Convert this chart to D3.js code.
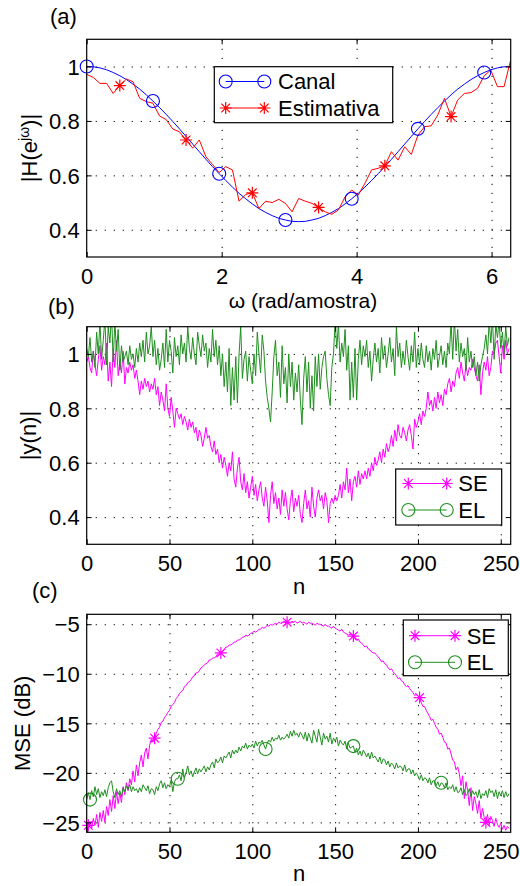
<!DOCTYPE html>
<html><head><meta charset="utf-8">
<script src="https://cdn.jsdelivr.net/npm/d3@7"></script>
<style>body{margin:0;background:#fff}svg text{font-family:"Liberation Sans",Arial,Helvetica,sans-serif;fill:#000}</style>
</head><body><script>
// ---- data ----
const canal = [1.000,0.999,0.995,0.988,0.978,0.966,0.952,0.935,0.917,0.896,
0.873,0.849,0.824,0.798,0.771,0.743,0.715,0.687,0.659,0.632,
0.606,0.581,0.557,0.534,0.514,0.495,0.478,0.464,0.452,0.442,
0.436,0.431,0.430,0.431,0.436,0.442,0.452,0.464,0.478,0.495,
0.514,0.534,0.557,0.581,0.606,0.632,0.659,0.687,0.715,0.743,
0.771,0.798,0.824,0.849,0.873,0.896,0.917,0.935,0.952,0.966,
0.978,0.988,0.995,0.999,1.000];
const estimativa = [0.971,0.960,0.938,0.938,0.901,0.930,0.954,0.944,0.883,0.871,
0.865,0.818,0.805,0.770,0.760,0.730,0.700,0.730,0.668,0.640,
0.610,0.632,0.620,0.505,0.530,0.536,0.478,0.505,0.500,0.512,
0.497,0.466,0.515,0.505,0.497,0.482,0.466,0.457,0.473,0.521,
0.546,0.528,0.571,0.620,0.626,0.635,0.687,0.656,0.705,0.677,
0.748,0.779,0.782,0.822,0.883,0.816,0.877,0.901,0.904,0.920,
0.966,0.987,0.926,0.926,1.024];
const canalMarkers = [0,10,20,30,40,50,60];
const estMarkers = [5,15,25,35,45,55];

const seY = [0.97,0.99,0.95,0.93,1.01,0.96,0.92,0.98, 1.03,0.94,0.99,0.96,1.04,0.90,0.97,0.88,
1.02,0.95,1.05,0.92,0.97,0.93,1.01,0.89, 0.95,0.93,0.97,0.94,0.96,0.91,0.94,0.90,
0.85,0.90,0.87,0.91,0.88,0.90,0.86,0.89, 0.87,0.91,0.85,0.88,0.81,0.86,0.83,0.79,
0.89,0.80,0.77,0.84,0.79,0.73,0.80,0.78, 0.76,0.78,0.74,0.77,0.75,0.72,0.76,0.73,
0.75,0.71,0.73,0.68,0.72,0.70,0.66,0.69, 0.73,0.69,0.70,0.66,0.64,0.68,0.63,0.65,
0.60,0.63,0.58,0.62,0.59,0.55,0.60,0.57, 0.64,0.54,0.51,0.58,0.62,0.53,0.50,0.56,
0.49,0.53,0.47,0.51,0.55,0.48,0.52,0.46, 0.50,0.53,0.47,0.44,0.51,0.46,0.38,0.48,
0.53,0.45,0.49,0.43,0.47,0.41,0.50,0.44, 0.49,0.43,0.39,0.46,0.50,0.42,0.47,0.44,
0.48,0.41,0.38,0.45,0.50,0.43,0.46,0.40, 0.51,0.44,0.40,0.47,0.50,0.46,0.48,0.43,
0.49,0.46,0.38,0.45,0.47,0.45,0.48,0.46, 0.48,0.52,0.47,0.53,0.50,0.58,0.49,0.54,
0.46,0.53,0.55,0.51,0.57,0.52,0.56,0.54, 0.57,0.54,0.58,0.55,0.60,0.57,0.62,0.59,
0.61,0.64,0.60,0.65,0.62,0.67,0.64,0.66, 0.70,0.66,0.72,0.68,0.74,0.70,0.69,0.73,
0.71,0.68,0.72,0.74,0.70,0.65,0.76,0.73, 0.75,0.78,0.74,0.79,0.77,0.80,0.86,0.81,
0.83,0.79,0.84,0.80,0.86,0.82,0.85,0.81, 0.87,0.85,0.89,0.91,0.86,0.90,0.88,0.93,
0.95,0.91,0.97,0.93,0.90,0.96,0.92,0.95, 0.94,0.98,0.95,0.92,0.90,0.96,0.85,0.93,
0.97,0.94,0.99,0.92,0.95,1.01,1.00,1.04, 1.05,0.99,0.93,1.03,0.98,1.05,1.00,1.02];

const elY = [1.02,0.99,1.06,0.97,1.01,0.95,1.08,1.00, 1.12,0.98,1.05,1.13,0.96,1.10,1.04,1.15,
0.97,1.12,1.01,1.09,0.94,1.03,0.97,0.99, 1.01,0.96,1.03,0.98,1.00,0.95,1.02,0.97,
1.04,0.99,1.05,0.97,1.08,1.00,1.03,1.10, 0.99,1.05,0.96,1.02,0.94,0.98,1.04,0.95,
1.09,0.97,1.05,1.01,0.93,1.06,0.99,1.03, 0.96,1.07,1.00,1.04,0.97,1.10,1.02,0.98,
1.06,1.00,0.96,1.08,1.03,0.99,1.07,1.01, 1.04,0.95,1.02,0.97,1.09,0.99,1.05,0.96,
1.03,0.92,1.00,0.88,0.97,0.86,1.02,0.81, 0.95,0.83,0.99,0.82,1.00,1.10,0.91,0.98,
1.01,0.90,0.99,0.94,0.89,1.00,0.92,1.08, 1.00,0.93,1.07,1.01,0.90,0.84,0.80,0.75,
0.86,0.99,1.05,0.92,0.97,0.84,1.03,0.89, 0.95,0.82,1.00,0.88,0.97,0.83,0.93,0.86,
0.96,0.83,0.74,0.91,0.99,0.86,0.97,0.80, 0.92,0.79,0.99,0.88,1.00,0.87,0.95,0.99,
1.01,0.91,0.85,0.81,0.95,1.00,1.12,1.02, 1.11,0.97,1.04,0.99,1.09,0.94,1.03,0.83,
0.97,0.84,1.02,0.83,0.98,1.05,0.96,1.03, 0.99,1.05,0.95,1.01,0.90,0.98,1.04,0.97,
1.02,0.93,1.06,0.98,1.03,0.95,1.00,1.06, 0.97,1.02,0.92,1.10,0.99,1.04,0.95,1.01,
0.96,1.05,0.99,0.94,1.03,0.97,1.08,0.95, 1.02,0.96,1.04,0.98,0.95,1.03,0.97,1.01,
0.94,1.02,0.98,1.05,0.95,0.99,1.03,0.96, 1.01,0.95,1.04,1.00,1.12,0.98,1.13,1.01,
1.09,0.97,1.04,0.99,1.02,0.94,1.06,0.97, 1.01,0.95,0.99,0.92,0.97,0.90,0.96,0.99,
1.02,1.07,1.00,1.12,1.04,1.13,0.98,1.11, 1.06,1.12,1.02,1.08,1.00,1.10,1.03,1.06];

const seMSE = [-25.4,-25.3,-24.9,-25.6,-24.6, -25.3,-24.2,-25.5,-24.0,-24.9,
-23.8,-25.0,-23.4,-24.3,-22.7, -23.9,-22.3,-23.6,-21.9,-23.1,
-22.0,-23.0,-21.4,-22.2,-21.0, -21.8,-20.6,-21.2,-19.8,-20.9,
-19.2,-20.3,-19.0,-18.2,-19.4, -18.0,-17.5,-18.6,-17.2,-16.6,
-16.9,-16.5,-16.0,-15.6,-15.4, -14.9,-14.8,-14.4,-14.2,-13.9,
-13.7,-13.3,-13.1,-12.9,-12.5, -12.3,-12.0,-11.8,-11.7,-11.3,
-11.2,-10.9,-10.8,-10.6,-10.3, -10.2,-9.9,-9.9,-9.7,-9.4,
-9.3,-9.1,-9.0,-8.9,-8.6, -8.6,-8.4,-8.4,-8.3,-8.0,
-8.0,-7.9,-7.7,-7.6,-7.3, -7.3,-7.1,-7.1,-7.0,-6.8,
-6.8,-6.6,-6.6,-6.5,-6.3, -6.3,-6.1,-6.2,-6.1,-5.9,
-5.9,-5.7,-5.8,-5.7,-5.5, -5.5,-5.3,-5.4,-5.3,-5.1,
-5.2,-5.0,-5.1,-5.0,-4.9, -5.0,-4.8,-4.9,-4.9,-4.7,
-4.8,-4.8,-4.8,-4.9,-4.7, -4.8,-4.7,-4.9,-4.8,-4.7,
-4.9,-4.8,-4.9,-5.0,-4.8, -4.9,-4.9,-5.0,-5.1,-4.9,
-5.0,-5.0,-5.1,-5.2,-5.0, -5.2,-5.2,-5.3,-5.4,-5.2,
-5.4,-5.5,-5.6,-5.7,-5.5, -5.8,-5.9,-6.0,-6.1,-6.0,
-6.1,-6.2,-6.5,-6.6,-6.5, -6.8,-6.9,-7.1,-7.3,-7.2,
-7.5,-7.6,-7.8,-7.9,-7.9, -8.1,-8.3,-8.5,-8.8,-8.7,
-9.0,-9.1,-9.4,-9.6,-9.5, -9.8,-10.0,-10.2,-10.5,-10.4,
-10.7,-10.8,-11.1,-11.3,-11.2, -11.5,-11.7,-11.9,-12.2,-12.1,
-12.2,-12.4,-12.9,-13.3,-13.3, -13.7,-14.0,-14.3,-14.7,-14.6,
-15.0,-15.4,-15.6,-16.1,-16.0, -16.4,-16.9,-17.0,-17.6,-17.5,
-18.1,-18.7,-18.9,-19.7,-19.4, -20.1,-21.3,-20.3,-22.6,-20.9,
-21.8,-23.3,-21.5,-23.8,-22.4, -23.1,-24.1,-22.8,-24.6,-23.6,
-24.5,-25.0,-24.2,-25.3,-24.4, -24.8,-25.4,-24.6,-25.2,-25.5,
-25.1,-25.7,-25.3,-25.8,-25.4,-25.6];

const elMSE = [-22.7,-22.0,-22.7,-21.8,-22.4, -21.4,-22.2,-21.6,-22.5,-21.9,
-22.3,-21.7,-22.4,-21.5,-21.0, -20.8,-21.9,-22.5,-21.6,-22.2,
-21.8,-22.4,-21.5,-21.9,-21.3, -21.7,-21.2,-21.9,-21.4,-21.8,
-21.6,-22.0,-21.5,-21.9,-21.2, -21.5,-21.8,-21.3,-22.1,-21.6,
-21.7,-22.2,-21.4,-21.8,-21.1, -20.8,-21.5,-21.0,-21.6,-21.2,
-21.4,-20.7,-21.9,-20.9,-20.6, -20.6,-20.2,-20.8,-19.6,-20.5,
-20.0,-19.3,-20.2,-19.8,-20.4, -19.9,-19.5,-20.1,-19.6,-19.9,
-19.6,-19.3,-19.9,-19.4,-19.7, -19.2,-18.9,-19.5,-18.6,-19.0,
-18.8,-18.4,-19.0,-18.3,-18.5, -18.2,-17.9,-18.5,-17.7,-18.1,
-17.7,-18.0,-17.4,-17.8,-17.3, -17.5,-17.0,-17.6,-17.2,-17.4,
-17.1,-17.5,-16.8,-17.3,-16.9, -17.0,-16.7,-17.2,-17.6,-17.0,
-16.7,-16.9,-16.4,-16.8,-16.5, -16.6,-16.2,-16.7,-16.4,-16.6,
-16.4,-16.1,-16.5,-15.8,-16.3, -15.7,-16.2,-16.0,-16.4,-15.9,
-16.2,-16.6,-15.9,-16.8,-16.0, -16.5,-17.0,-15.7,-16.3,-16.9,
-15.6,-16.4,-17.2,-16.0,-16.6, -16.3,-16.9,-16.0,-17.1,-16.5,
-16.8,-16.4,-17.3,-16.7,-17.0, -17.2,-16.8,-17.6,-17.0,-17.5,
-17.4,-17.3,-17.9,-17.5,-18.2, -17.8,-18.3,-17.7,-18.0,-18.4,
-18.0,-18.6,-17.9,-18.5,-18.3, -18.6,-18.9,-18.4,-19.1,-18.6,
-18.7,-19.2,-18.8,-19.4,-19.0, -19.2,-19.6,-19.0,-19.5,-19.3,
-19.4,-19.8,-19.2,-19.9,-19.6, -19.6,-20.1,-19.7,-20.3,-20.0,
-20.3,-20.7,-20.2,-20.8,-20.5, -20.6,-21.0,-20.5,-21.2,-20.8,
-20.8,-21.3,-20.9,-21.4,-21.0, -21.1,-21.5,-21.0,-21.7,-21.4,
-21.6,-21.2,-21.9,-21.4,-22.0, -21.9,-21.5,-22.2,-21.7,-22.3,
-22.1,-21.6,-22.4,-21.8,-22.2, -21.9,-22.5,-21.7,-22.6,-22.1,
-22.3,-21.8,-22.5,-21.6,-22.0, -21.8,-22.4,-21.7,-22.6,-21.9,
-22.3,-21.8,-22.5,-21.9,-22.4,-22.1];
const seMarkers = [1,41,81,121,161,201,241];
const elMarkers = [2,55,108,161,214];

const xTicksA = [0,2,4,6];
const yTicksA = [0.4,0.6,0.8,1];
const xTicksN = [0,50,100,150,200,250];
const yTicksB = [0.4,0.6,0.8,1];
const yTicksC = [-25,-20,-15,-10,-5];

// ---- drawing ----
const FS = 22;
const BLUE = "#0000ff", RED = "#ff0000", MAG = "#ff00ff", GRN = "#1f8f1f";
const svg = d3.select("body").append("svg").attr("width", 520).attr("height", 886);
const L = 86.7, R = 510.7;
let clipId = 0;

function starPath(s) {
  const k = s * 0.72;
  return `M${-s},0L${s},0M0,${-s}L0,${s}M${-k},${-k}L${k},${k}M${-k},${k}L${k},${-k}`;
}

function panel(top, bottom, xdom, ydom, xt, yt, yfmt) {
  const x = d3.scaleLinear().domain(xdom).range([L, R]);
  const y = d3.scaleLinear().domain(ydom).range([bottom, top]);
  const h = bottom - top, w = R - L;
  const g = svg.append("g");
  // grid
  const gx = g.append("g").attr("transform", `translate(0,${bottom})`)
    .call(d3.axisBottom(x).tickValues(xt.filter(v => x(v) > L + 1 && x(v) < R - 1)).tickSize(-h).tickFormat(""));
  const gy = g.append("g").attr("transform", `translate(${L},0)`)
    .call(d3.axisLeft(y).tickValues(yt).tickSize(-w).tickFormat(""));
  [gx, gy].forEach(a => {
    a.select(".domain").remove();
    a.selectAll("line").attr("stroke", "#000").attr("stroke-width", 1).attr("stroke-dasharray", "1.2,7.8");
  });
  // clip
  const id = "clip" + (clipId++);
  g.append("clipPath").attr("id", id).append("rect").attr("x", L).attr("y", top).attr("width", w).attr("height", h);
  const plot = g.append("g").attr("clip-path", `url(#${id})`);
  const marks = g.append("g");
  // axes with inward ticks
  const axB = g.append("g").attr("transform", `translate(0,${bottom})`)
    .call(d3.axisBottom(x).tickValues(xt).tickSize(-5).tickSizeOuter(0).tickPadding(11).tickFormat(d => String(d)));
  const axT = g.append("g").attr("transform", `translate(0,${top})`)
    .call(d3.axisTop(x).tickValues(xt).tickSize(-5).tickSizeOuter(0).tickFormat(""));
  const axL = g.append("g").attr("transform", `translate(${L},0)`)
    .call(d3.axisLeft(y).tickValues(yt).tickSize(-5).tickSizeOuter(0).tickPadding(7).tickFormat(yfmt));
  const axR = g.append("g").attr("transform", `translate(${R},0)`)
    .call(d3.axisRight(y).tickValues(yt).tickSize(-5).tickSizeOuter(0).tickFormat(""));
  [axB, axT, axL, axR].forEach(a => {
    a.select(".domain").remove();
    a.selectAll("line").attr("stroke", "#000").attr("stroke-width", 1);
    a.selectAll("text").attr("font-size", FS).attr("font-family", '"Liberation Sans",Arial,sans-serif').attr("fill", "#000");
  });
  axL.selectAll("text").attr("dy", "0.35em");
  g.append("rect").attr("x", L).attr("y", top).attr("width", w).attr("height", h)
    .attr("fill", "none").attr("stroke", "#000").attr("stroke-width", 1.2);
  return { x, y, g, plot, marks, top, bottom };
}

function drawLine(p, xs, ys, color) {
  p.plot.append("path").datum(ys)
    .attr("fill", "none").attr("stroke", color).attr("stroke-width", 1)
    .attr("stroke-linejoin", "round")
    .attr("d", d3.line().x((d, i) => p.x(xs[i])).y(d => p.y(d)));
}
function drawCircles(p, xs, ys, idx, color) {
  p.marks.selectAll(null).data(idx).enter().append("circle")
    .attr("cx", i => p.x(xs[i])).attr("cy", i => p.y(ys[i])).attr("r", 6.5)
    .attr("fill", "none").attr("stroke", color).attr("stroke-width", 1.1);
}
function drawStars(p, xs, ys, idx, color) {
  p.marks.selectAll(null).data(idx).enter().append("path")
    .attr("transform", i => `translate(${p.x(xs[i])},${p.y(ys[i])})`)
    .attr("d", starPath(6)).attr("fill", "none").attr("stroke", color).attr("stroke-width", 1.2);
}

function legend(box, lx0, lx1, tx, items) {
  const g = svg.append("g");
  g.append("rect").attr("x", box[0]).attr("y", box[1]).attr("width", box[2] - box[0]).attr("height", box[3] - box[1])
    .attr("fill", "#fff").attr("stroke", "#000").attr("stroke-width", 1.2);
  items.forEach(it => {
    g.append("line").attr("x1", lx0).attr("x2", lx1).attr("y1", it.y).attr("y2", it.y)
      .attr("stroke", it.color).attr("stroke-width", 1);
    [lx0, lx1].forEach(cx => {
      if (it.marker === "o") g.append("circle").attr("cx", cx).attr("cy", it.y).attr("r", 6.5)
        .attr("fill", "none").attr("stroke", it.color).attr("stroke-width", 1.1);
      else g.append("path").attr("transform", `translate(${cx},${it.y})`).attr("d", starPath(6))
        .attr("fill", "none").attr("stroke", it.color).attr("stroke-width", 1.2);
    });
    g.append("text").attr("x", tx).attr("y", it.y).attr("dy", "0.36em").attr("font-size", FS).text(it.label);
  });
}

function ylabel(x, cy, build) {
  const t = svg.append("text").attr("transform", `translate(${x},${cy}) rotate(-90)`)
    .attr("text-anchor", "middle").attr("font-size", FS);
  build(t);
}

// ---- panel (a) ----
const omega = canal.map((_, i) => 2 * Math.PI * i / 64);
const pa = panel(39.3, 257, [0, 2 * Math.PI], [0.3, 1.1], xTicksA, yTicksA, d => String(d));
drawLine(pa, omega, canal, BLUE);
drawCircles(pa, omega, canal, canalMarkers, BLUE);
drawLine(pa, omega, estimativa, RED);
drawStars(pa, omega, estimativa, estMarkers, RED);
legend([214.3, 66.7, 392.7, 122.7], 225.7, 264.3, 278, [
  { label: "Canal", color: BLUE, marker: "o", y: 81.5 },
  { label: "Estimativa", color: RED, marker: "*", y: 108 }]);
svg.append("text").attr("x", 50).attr("y", 24).attr("font-size", FS).text("(a)");
svg.append("text").attr("x", 303).attr("y", 307.5).attr("text-anchor", "middle").attr("font-size", 21).text("ω (rad/amostra)");
ylabel(37, 148, t => {
  t.append("tspan").text("|H(e");
  t.append("tspan").attr("font-size", 14).attr("dy", -8).text("jω");
  t.append("tspan").attr("dy", 8).text(")|");
});

// ---- panel (b) ----
const nIdx = seY.map((_, i) => i);
const pb = panel(326.7, 544.3, [0, 256], [0.3, 1.1], xTicksN, yTicksB, d => String(d));
drawLine(pb, nIdx, seY, MAG);
drawLine(pb, nIdx, elY, GRN);
legend([395.7, 469, 501.7, 525], 408.3, 446.7, 458.3, [
  { label: "SE", color: MAG, marker: "*", y: 483.5 },
  { label: "EL", color: GRN, marker: "o", y: 510 }]);
svg.append("text").attr("x", 48).attr("y", 314).attr("font-size", FS).text("(b)");
svg.append("text").attr("x", 299).attr("y", 594).attr("text-anchor", "middle").attr("font-size", FS).text("n");
ylabel(36, 435.5, t => t.text("|y(n)|"));

// ---- panel (c) ----
const nIdxC = seMSE.map((_, i) => i);
const pc = panel(614.3, 832.3, [0, 256], [-26, -4], xTicksN, yTicksC, d => "\u2212" + Math.abs(d));
drawLine(pc, nIdxC, seMSE, MAG);
drawStars(pc, nIdxC, seMSE, seMarkers, MAG);
drawLine(pc, nIdxC, elMSE, GRN);
drawCircles(pc, nIdxC, elMSE, elMarkers, GRN);
legend([403.3, 620, 508.3, 675.7], 415, 455, 466.7, [
  { label: "SE", color: MAG, marker: "*", y: 635.7 },
  { label: "EL", color: GRN, marker: "o", y: 662.3 }]);
svg.append("text").attr("x", 32).attr("y", 598).attr("font-size", FS).text("(c)");
svg.append("text").attr("x", 299).attr("y", 881).attr("text-anchor", "middle").attr("font-size", FS).text("n");
ylabel(30, 723.3, t => t.text("MSE (dB)"));
</script></body></html>
